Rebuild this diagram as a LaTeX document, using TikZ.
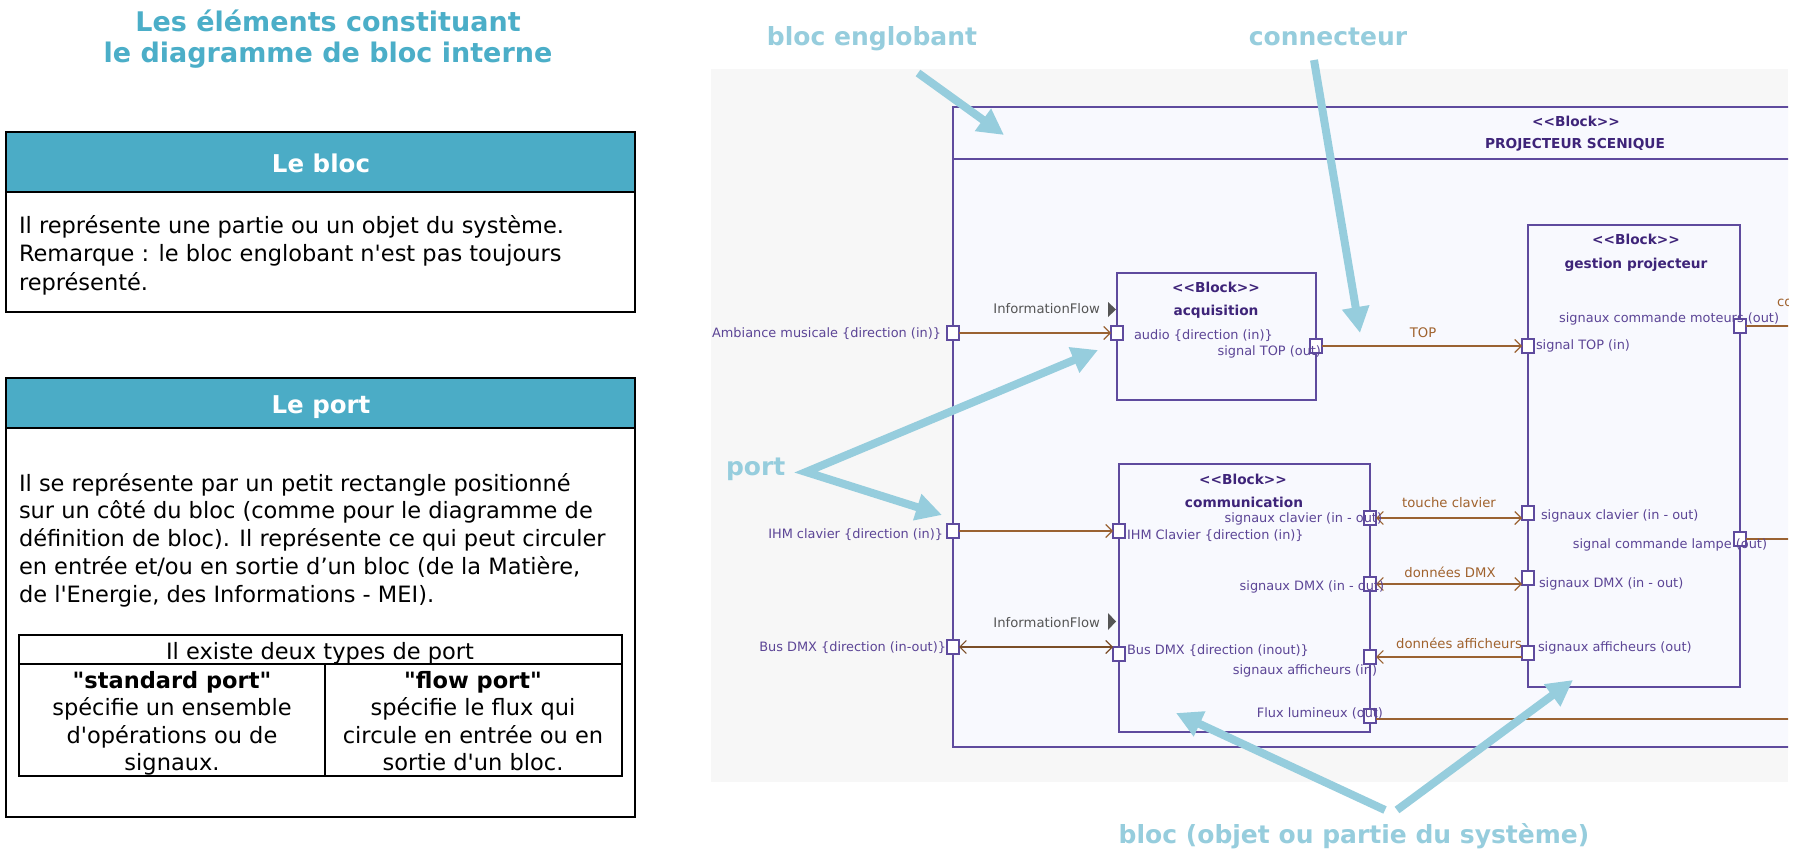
\documentclass[tikz,border=0pt]{standalone}
\usepackage{fontspec}
\setmainfont{DejaVu Sans}[Ligatures=TeXOff]
\usetikzlibrary{arrows.meta}
\definecolor{annot}{HTML}{96CDDD}
\definecolor{ttl}{HTML}{4BAEC8}
\definecolor{hdr}{HTML}{4BACC6}
\definecolor{bgc}{HTML}{F7F7F7}
\definecolor{blkfill}{HTML}{F8F9FE}
\definecolor{blkline}{HTML}{5F4B9E}
\definecolor{lbl}{HTML}{5C4596}
\definecolor{blkname}{HTML}{3E2479}
\definecolor{conncol}{HTML}{9A6232}
\definecolor{connlbl}{HTML}{A0622D}
\definecolor{iflow}{HTML}{555555}
\newcommand\stereo{<\kern0pt<Block>\kern0pt>}
\tikzset{
  every node/.style={inner sep=0pt, outer sep=0pt},
  body/.style={font=\fontsize{22.5}{28}\selectfont, text=black},
  bodyb/.style={font=\fontsize{22.5}{28}\selectfont\bfseries, text=black},
  ttlst/.style={font=\fontsize{27}{32}\selectfont\bfseries, text=ttl},
  hdrtxt/.style={font=\fontsize{24.5}{30}\selectfont\bfseries, text=white},
  annottxt/.style={font=\fontsize{25}{30}\selectfont\bfseries, text=annot},
  boxline/.style={draw=black, line width=2.4pt},
  tabline/.style={draw=black, line width=2pt},
  blk/.style={draw=blkline, fill=blkfill, line width=1.3pt, rectangle},
  port/.style={draw=blkline, fill=white, line width=1.3pt, rectangle, minimum width=12pt, minimum height=14pt},
  lab/.style={font=\fontsize{12.9}{15}\selectfont, text=lbl},
  bname/.style={font=\fontsize{13.7}{15}\selectfont\bfseries, text=blkname},
  clab/.style={font=\fontsize{13.2}{15}\selectfont, text=connlbl},
  iflowtxt/.style={font=\fontsize{13.2}{15}\selectfont, text=iflow},
  cn/.style={draw=conncol, line width=1.3pt},
  headend/.style={-{Straight Barb[length=6.5pt,width=13pt,line width=1.1pt]}},
  headboth/.style={{Straight Barb[length=6.5pt,width=13pt,line width=1.1pt]}-{Straight Barb[length=6.5pt,width=13pt,line width=1.1pt]}},
  annarrow/.style={draw=annot, line width=8pt, -{Triangle[length=26pt,width=26pt]}},
  annboth/.style={draw=annot, line width=8pt, line join=miter, {Triangle[length=26pt,width=26pt]}-{Triangle[length=26pt,width=26pt]}},
}
\begin{document}
\begin{tikzpicture}[x=1pt,y=-1pt]
\useasboundingbox (0,0) rectangle (1798,854);
\fill[white] (0,0) rectangle (1798,854);

% ---------------- left panel ----------------
\node[ttlst, anchor=base] (t1) at (328,31) {Les éléments constituant};
\node[ttlst, anchor=base] (t2) at (328,62) {le diagramme de bloc interne};

% Le bloc
\fill[hdr] (6,132) rectangle (635,192);
\draw[boxline] (6,132) rectangle (635,312);
\draw[boxline] (6,192) -- (635,192);
\node[hdrtxt, anchor=base] (hbloc) at (321,172) {Le bloc};
\node[body, anchor=base west] (b1) at (19,233) {Il représente une partie ou un objet du système.};
\node[body, anchor=base west] (b2) at (19,261) {Remarque : le bloc englobant n'est pas toujours};
\node[body, anchor=base west] (b3) at (19,290) {représenté.};

% Le port
\fill[hdr] (6,378) rectangle (635,428);
\draw[boxline] (6,378) rectangle (635,817);
\draw[boxline] (6,428) -- (635,428);
\node[hdrtxt, anchor=base] (hport) at (321,413) {Le port};
\node[body, anchor=base west] (p1) at (19,491) {Il se représente par un petit rectangle positionné};
\node[body, anchor=base west] (p2) at (19,518.75) {sur un côté du bloc (comme pour le diagramme de};
\node[body, anchor=base west] (p3) at (19,546.5) {définition de bloc). Il représente ce qui peut circuler};
\node[body, anchor=base west] (p4) at (19,574.25) {en entrée et/ou en sortie d’un bloc (de la Matière,};
\node[body, anchor=base west] (p5) at (19,602) {de l'Energie, des Informations - MEI).};

% table
\draw[tabline] (19,635) rectangle (622,776);
\draw[tabline] (19,664) -- (622,664);
\draw[tabline] (325,664) -- (325,776);
\node[body, anchor=base] (tx0) at (320,659) {Il existe deux types de port};
\node[bodyb, anchor=base] (tl1) at (172,688) {"standard port"};
\node[body, anchor=base] (tl2) at (172,715.5) {spécifie un ensemble};
\node[body, anchor=base] (tl3) at (172,743) {d'opérations ou de};
\node[body, anchor=base] (tl4) at (172,770) {signaux.};
\node[bodyb, anchor=base] (tr1) at (473,688) {"flow port"};
\node[body, anchor=base] (tr2) at (473,715.5) {spécifie le flux qui};
\node[body, anchor=base] (tr3) at (473,743) {circule en entrée ou en};
\node[body, anchor=base] (tr4) at (473,770) {sortie d'un bloc.};

% ---------------- diagram ----------------
\fill[bgc] (711,69) rectangle (1788,782);
\begin{scope}
\clip (711,69) rectangle (1788,782);
\node[blk, anchor=north west, minimum width=1300pt, minimum height=640pt] (outer) at (953,107) {};
\draw[draw=blkline, line width=1.3pt] (outer.west |- 0,159) -- (outer.east |- 0,159);
\node[bname, anchor=base] (os) at (1576,126) {\stereo};
\node[bname, anchor=base] (on) at (1575,148) {PROJECTEUR SCENIQUE};

\node[blk, anchor=north west, minimum width=199pt, minimum height=127pt] (acq) at (1117,273) {};
\node[blk, anchor=north west, minimum width=251pt, minimum height=268pt] (comm) at (1119,464) {};
\node[blk, anchor=north west, minimum width=212pt, minimum height=462pt] (gest) at (1528,225) {};

\node[bname, anchor=base] (as) at (1216,292) {\stereo};
\node[bname, anchor=base] (an) at (1216,315) {acquisition};
\node[bname, anchor=base] (cs) at (1243,484) {\stereo};
\node[bname, anchor=base] (cnm) at (1244,507) {communication};
\node[bname, anchor=base] (gs) at (1636,244) {\stereo};
\node[bname, anchor=base] (gn) at (1636,268) {gestion projecteur};

% ports
\node[port] (pAmb) at (953,333) {};
\node[port] (pIHM) at (953,531) {};
\node[port] (pBus) at (953,647) {};
\node[port] (pAudio) at (1117,333) {};
\node[port] (pTopOut) at (1316,346) {};
\node[port] (pIHMc) at (1119,531) {};
\node[port] (pBusc) at (1119,654) {};
\node[port] (pClavC) at (1370,518) {};
\node[port] (pDMXc) at (1370,584) {};
\node[port] (pAffC) at (1370,657) {};
\node[port] (pFlux) at (1370,716) {};
\node[port] (pTopIn) at (1528,346) {};
\node[port] (pClavG) at (1528,513) {};
\node[port] (pDMXg) at (1528,578) {};
\node[port] (pAffG) at (1528,653) {};
\node[port] (pMot) at (1740,326) {};
\node[port] (pLampe) at (1740,539) {};
\coordinate (eMot) at (1792,326);
\coordinate (eLampe) at (1792,539);
\coordinate (eFlux) at (1792,719);

% connectors
\draw[cn, headend] (pAmb) -- (pAudio);
\draw[cn, headend] (pTopOut) -- (pTopIn);
\draw[cn, headend] (pIHM) -- (pIHMc);
\draw[draw=conncol!80!black, line width=2.6pt, headboth] (pBus.east) -- (pBus.east -| pBusc.west);
\draw[cn, headboth] (pClavC.east) -- (pClavC.east -| pClavG.west);
\draw[cn, headboth] (pDMXc.east) -- (pDMXc.east -| pDMXg.west);
\draw[cn, headend] (pAffC.east -| pAffG.west) -- (pAffC.east);
\draw[cn] (pFlux.east |- eFlux) -- (eFlux);
\draw[cn] (pMot.east) -- (eMot);
\draw[cn] (pLampe.east) -- (eLampe);

% information flow marks
\node[iflowtxt, anchor=base east] (if1) at (1100,313) {InformationFlow};
\fill[iflow] (1108,302) -- (1116,309.5) -- (1108,317) -- cycle;
\node[iflowtxt, anchor=base east] (if2) at (1100,627) {InformationFlow};
\fill[iflow] (1108,613) -- (1116,621.5) -- (1108,630) -- cycle;

% port labels
\node[lab, anchor=base east] (lAmb) at (941,337) {Ambiance musicale \{direction (in)\}};
\node[lab, anchor=base west] (lAudio) at (1134,339) {audio \{direction (in)\}};
\node[lab, anchor=base east] (lTopOut) at (1321,355) {signal TOP (out)};
\node[lab, anchor=base west] (lTopIn) at (1536,349) {signal TOP (in)};
\node[lab, anchor=base east] (lMot) at (1779,322) {signaux commande moteurs (out)};
\node[lab, anchor=base east] (lIHM) at (943,538) {IHM clavier \{direction (in)\}};
\node[lab, anchor=base west] (lIHMc) at (1127,539) {IHM Clavier \{direction (in)\}};
\node[lab, anchor=base east] (lClavC) at (1382,522) {signaux clavier (in - out)};
\node[lab, anchor=base west] (lClavG) at (1541,519) {signaux clavier (in - out)};
\node[lab, anchor=base east] (lLampe) at (1767,548) {signal commande lampe (out)};
\node[lab, anchor=base east] (lDMXc) at (1384,590) {signaux DMX (in - out)};
\node[lab, anchor=base west] (lDMXg) at (1539,587) {signaux DMX (in - out)};
\node[lab, anchor=base east] (lBus) at (946,651) {Bus DMX \{direction (in-out)\}};
\node[lab, anchor=base west] (lBusc) at (1127,654) {Bus DMX \{direction (inout)\}};
\node[lab, anchor=base west] (lAffG) at (1538,651) {signaux afficheurs (out)};
\node[lab, anchor=base east] (lAffC) at (1377,674) {signaux afficheurs (in)};
\node[lab, anchor=base east] (lFlux) at (1383,717) {Flux lumineux (out)};

% connector labels
\node[clab, anchor=base] (lTOP) at (1423,337) {TOP};
\node[clab, anchor=base] (lTouche) at (1449,507) {touche clavier};
\node[clab, anchor=base] (lDonDMX) at (1450,577) {données DMX};
\node[clab, anchor=base] (lDonAff) at (1459,648) {données afficheurs};
\node[clab, anchor=base west] (lco) at (1777,306) {co};
\end{scope}

% ---------------- annotations ----------------
\node[annottxt, anchor=base] (aBE) at (872,45) {bloc englobant};
\node[annottxt, anchor=base] (aCon) at (1328,45) {connecteur};
\node[annottxt, anchor=base west] (aPort) at (726,475) {port};
\node[annottxt, anchor=base] (aBloc) at (1354,843) {bloc (objet ou partie du système)};

\coordinate (beS) at (918,73);
\coordinate (beT) at (1004,135);
\coordinate (coS) at (1314,60);
\coordinate (coT) at (1360,333);
\coordinate (poV) at (806,472);
\coordinate (poT1) at (1098,350);
\coordinate (poT2) at (942,515);
\coordinate (blS1) at (1385,810);
\coordinate (blT1) at (1176,713);
\coordinate (blS2) at (1397,810);
\coordinate (blT2) at (1573,680);
\draw[annarrow] (beS) -- (beT);
\draw[annarrow] (coS) -- (coT);
\draw[annboth] (poT1) -- (poV) -- (poT2);
\draw[annarrow] (blS1) -- (blT1);
\draw[annarrow] (blS2) -- (blT2);
\end{tikzpicture}
\end{document}
